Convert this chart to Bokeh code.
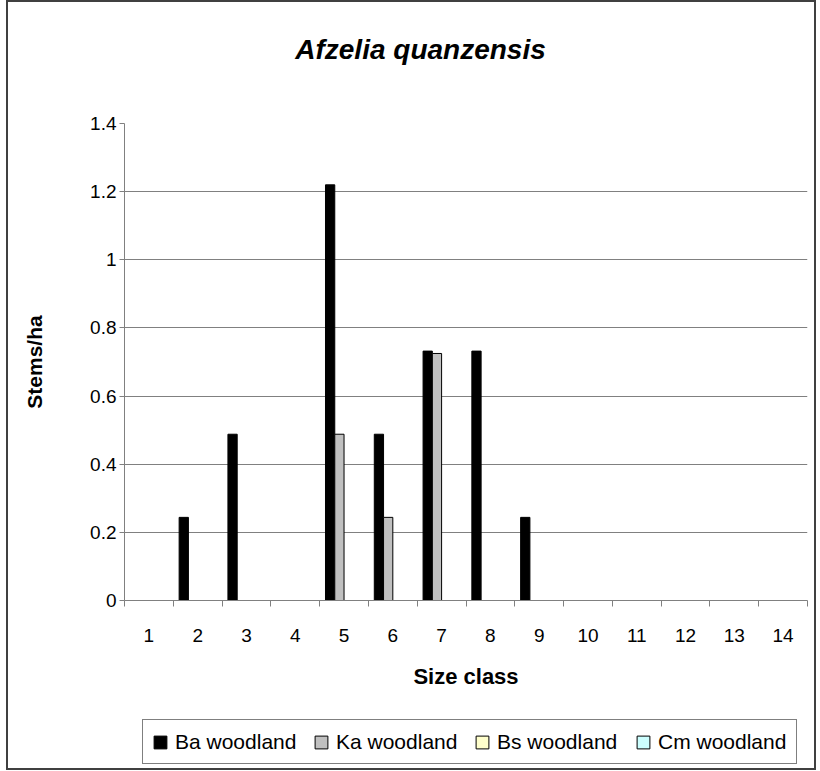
from bokeh.plotting import figure
from bokeh.layouts import column
from bokeh.models import (Range1d, FixedTicker, ColumnDataSource, Legend, LegendItem,
                          CustomJSTickFormatter, Label, InlineStyleSheet)
from bokeh.transform import dodge
from bokeh.embed import file_html
from bokeh.resources import INLINE

# ---- data ----
chart_title = "Afzelia quanzensis"
size_classes = [1, 2, 3, 4, 5, 6, 7, 8, 9, 10, 11, 12, 13, 14]
x_labels = ["1", "2", "3", "4", "5", "6", "7", "8", "9", "10", "11", "12", "13", "14"]
ba_woodland = [0, 0.244, 0.488, 0, 1.22, 0.488, 0.732, 0.732, 0.244, 0, 0, 0, 0, 0]
ka_woodland = [0, 0, 0, 0, 0.488, 0.244, 0.725, 0, 0, 0, 0, 0, 0, 0]
bs_woodland = [0, 0, 0, 0, 0, 0, 0, 0, 0, 0, 0, 0, 0, 0]
cm_woodland = [0, 0, 0, 0, 0, 0, 0, 0, 0, 0, 0, 0, 0, 0]
series_names = ["Ba woodland", "Ka woodland", "Bs woodland", "Cm woodland"]
series_values = [ba_woodland, ka_woodland, bs_woodland, cm_woodland]
y_ticks = [0, 0.2, 0.4, 0.6, 0.8, 1.0, 1.2, 1.4]
grid_ticks = [0.2, 0.4, 0.6, 0.8, 1.0, 1.2]

# ---- styles ----
colors = ["#000000", "#C0C0C0", "#FFFFCC", "#CCFFFF"]
offsets = [-0.285, -0.095, 0.095, 0.285]
bar_width = 0.19
FONT = "Liberation Sans"
AXIS_GRAY = "#808080"
NAN = float("nan")


def base_fig(h, **kw):
    f = figure(width=816, height=h, output_backend="svg", toolbar_location=None,
               background_fill_color="white", border_fill_color="white", **kw)
    f.outline_line_color = None
    return f


# ---- title strip (its frame is aligned with the chart frame by the column) ----
tf = base_fig(88, x_axis_location=None, y_axis_location=None,
              min_border_left=0, min_border_right=0, min_border_top=0, min_border_bottom=0)
tf.xgrid.grid_line_color = None
tf.ygrid.grid_line_color = None
tf.add_layout(Label(x=296, y=39, x_units="screen", y_units="screen", text=chart_title,
                    text_align="center", text_baseline="middle", text_font=FONT,
                    text_font_size="28px", text_font_style="bold italic", text_color="black"))

# ---- main chart ----
p = base_fig(622, x_range=Range1d(0.5, 14.5), y_range=Range1d(0, 1.4),
             min_border_left=124, min_border_right=9, min_border_top=35, min_border_bottom=110)

for name, vals, col, off in zip(series_names, series_values, colors, offsets):
    src = ColumnDataSource(data=dict(x=size_classes, top=[v if v > 0 else NAN for v in vals]))
    p.vbar(x=dodge("x", off, range=p.x_range), top="top", bottom=0, width=bar_width,
           source=src, fill_color=col, line_color="black", line_width=1)

xa = p.xaxis[0]
xa.ticker = FixedTicker(ticks=size_classes,
                        minor_ticks=[c - 0.5 for c in size_classes] + [size_classes[-1] + 0.5])
xa.major_label_overrides = {c: l for c, l in zip(size_classes, x_labels)}
xa.major_tick_line_color = None
xa.major_tick_out = 0
xa.major_tick_in = 0
xa.minor_tick_line_color = AXIS_GRAY
xa.minor_tick_out = 6
xa.minor_tick_in = 0
xa.axis_line_color = AXIS_GRAY
xa.major_label_text_font = FONT
xa.major_label_text_font_size = "19px"
xa.major_label_text_color = "black"
xa.major_label_standoff = 22
xa.axis_label = "Size class"
xa.axis_label_text_font = FONT
xa.axis_label_text_font_size = "22px"
xa.axis_label_text_font_style = "bold"
xa.axis_label_text_color = "black"
xa.axis_label_standoff = 19

ya = p.yaxis[0]
ya.ticker = FixedTicker(ticks=y_ticks)
ya.formatter = CustomJSTickFormatter(code="return String(Math.round(tick*10)/10);")
ya.minor_tick_line_color = None
ya.major_tick_line_color = AXIS_GRAY
ya.major_tick_out = 5
ya.major_tick_in = 0
ya.axis_line_color = AXIS_GRAY
ya.major_label_text_font = FONT
ya.major_label_text_font_size = "19px"
ya.major_label_text_color = "black"
ya.major_label_standoff = 3
ya.axis_label = "Stems/ha"
ya.axis_label_text_font = FONT
ya.axis_label_text_font_size = "21px"
ya.axis_label_text_font_style = "bold"
ya.axis_label_text_color = "black"
ya.axis_label_standoff = 41

p.xgrid.grid_line_color = None
p.ygrid.ticker = FixedTicker(ticks=grid_ticks)
p.ygrid.grid_line_color = AXIS_GRAY
p.ygrid.grid_line_width = 1

# ---- legend strip ----
lf = base_fig(59, x_range=Range1d(0.5, 14.5), y_range=Range1d(0, 1.4),
              x_axis_location=None, y_axis_location=None,
              min_border_left=0, min_border_right=0, min_border_top=0, min_border_bottom=0)
lf.xgrid.grid_line_color = None
lf.ygrid.grid_line_color = None
items = []
for name, vals, col in zip(series_names, series_values, colors):
    r = lf.vbar(x=size_classes, top=vals, width=bar_width, fill_color=col,
                line_color="black", line_width=1, visible=False)
    items.append(LegendItem(label=name, renderers=[r]))
legend = Legend(items=items, orientation="horizontal", location=(18, 5),
                label_text_font=FONT, label_text_font_size="21px", label_text_color="black",
                glyph_width=16, glyph_height=16, label_standoff=7, spacing=9, label_width=129,
                label_height=25, padding=9, margin=0,
                border_line_color="black", border_line_width=1,
                background_fill_color="white", background_fill_alpha=1)
lf.add_layout(legend, "center")

border_css = InlineStyleSheet(css="""
:host { position: relative; }
:host::after {
  content: ""; position: absolute; left: 6px; top: 0px; width: 806px; height: 766px;
  border: 2px solid #404040; pointer-events: none; z-index: 10;
}
""")

layout = column(tf, p, lf, spacing=0, stylesheets=[border_css])

open("out.html", "w").write(file_html(layout, INLINE))
